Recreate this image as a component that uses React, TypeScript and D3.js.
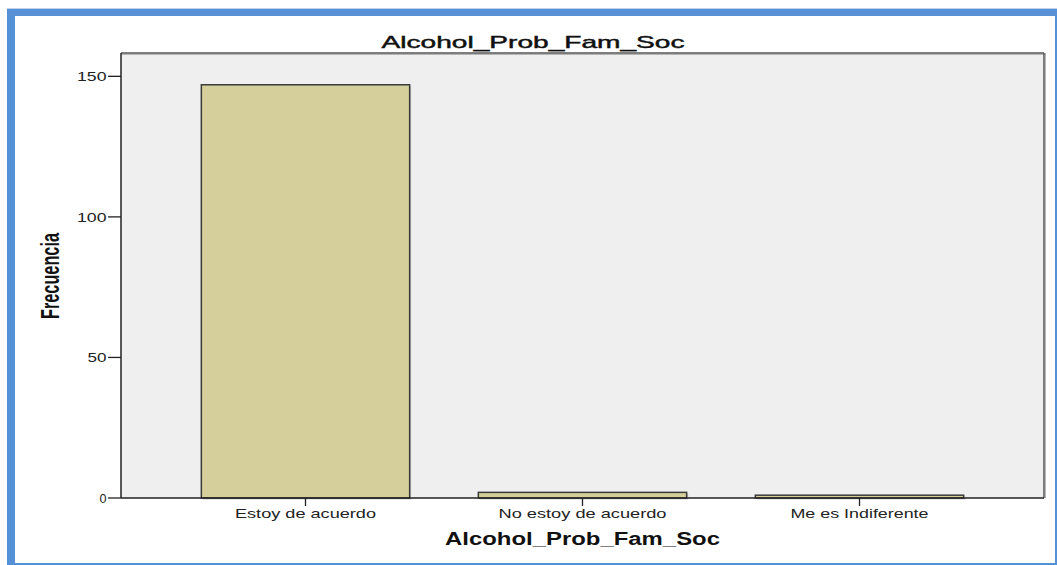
import React from "react";
import * as d3 from "d3";

// ---- data ----
const categories: string[] = ["Estoy de acuerdo", "No estoy de acuerdo", "Me es Indiferente"];
const frequencies: number[] = [147, 2, 1];
const yTicks: number[] = [0, 50, 100, 150];
const chartTitle = "Alcohol_Prob_Fam_Soc";
const xAxisTitle = "Alcohol_Prob_Fam_Soc";
const yAxisTitle = "Frecuencia";

// ---- layout / style ----
const W = 1057;
const H = 565;
const plot = { left: 121, right: 1044, top: 53, bottom: 498 };
const yMax = 158.3;
const FONT = "'Liberation Sans', Arial, Helvetica, sans-serif";
const BLUE = "#5690D6";
const BAR_FILL = "#D4CF9B";
const PLOT_BG = "#EFEFEF";
// horizontal text widths (the picture is stretched horizontally)
const xLabelWidths = [141, 168, 138];
const yLabelWidths: Record<string, number> = { "0": 7, "50": 19, "100": 29.5, "150": 29.5 };

export default function App() {
  const x = d3
    .scaleBand<string>()
    .domain(categories)
    .range([plot.left, plot.right])
    .paddingInner(0.248)
    .paddingOuter(0.29);
  const y = d3.scaleLinear().domain([0, yMax]).range([plot.bottom, plot.top]);

  return (
    <svg
      width={W}
      height={H}
      viewBox={`0 0 ${W} ${H}`}
      style={{ position: "absolute", left: 0, top: 0, background: "#fff" }}
    >
      {/* frame */}
      <rect x={0} y={0} width={W} height={H} fill="#fff" />
      <line x1={7} x2={W} y1={8.5} y2={8.5} stroke="#BFD3EE" strokeWidth={1} />
      <rect x={7} y={9} width={W - 7} height={H - 9} fill={BLUE} />
      <rect x={15} y={16} width={1040} height={547} fill="#fff" />

      {/* plot background */}
      <rect
        x={plot.left}
        y={plot.top}
        width={plot.right - plot.left}
        height={plot.bottom - plot.top}
        fill={PLOT_BG}
      />
      {/* top & right border with slight shadow */}
      <line x1={plot.left} x2={plot.right + 1.5} y1={plot.top + 1.5} y2={plot.top + 1.5} stroke="#B5B5B5" strokeWidth={1} />
      <line x1={plot.right + 1.5} x2={plot.right + 1.5} y1={plot.top} y2={plot.bottom} stroke="#B5B5B5" strokeWidth={1} />
      <line x1={plot.left} x2={plot.right} y1={plot.top} y2={plot.top} stroke="#555" strokeWidth={1.5} />
      <line x1={plot.right} x2={plot.right} y1={plot.top} y2={plot.bottom} stroke="#555" strokeWidth={1.5} />

      {/* title */}
      <text
        x={533}
        y={47.5}
        textAnchor="middle"
        fontFamily={FONT}
        fontSize={17}
        fontWeight="normal"
        fill="#111"
        stroke="#111"
        strokeWidth={0.45}
        textLength={303}
        lengthAdjust="spacingAndGlyphs"
      >
        {chartTitle}
      </text>

      {/* bars */}
      {categories.map((c, i) => {
        const v = frequencies[i];
        const bx = x(c) as number;
        const by = y(v);
        return (
          <g key={c}>
            <rect
              x={bx + 1.5}
              y={by + 1.5}
              width={x.bandwidth()}
              height={plot.bottom - by}
              fill="#B0B0B0"
              opacity={0.6}
            />
            <rect
              x={bx}
              y={by}
              width={x.bandwidth()}
              height={plot.bottom - by}
              fill={BAR_FILL}
              stroke="#3A3A3A"
              strokeWidth={1.5}
            />
          </g>
        );
      })}

      {/* axes lines */}
      <line x1={plot.left} x2={plot.left} y1={plot.top} y2={plot.bottom} stroke="#222" strokeWidth={1.5} />
      <line x1={plot.left} x2={plot.right} y1={plot.bottom} y2={plot.bottom} stroke="#222" strokeWidth={1.5} />

      {/* y ticks */}
      {yTicks.map((t) => (
        <g key={t}>
          <line x1={108} x2={plot.left} y1={y(t)} y2={y(t)} stroke="#222" strokeWidth={1.3} />
          <text
            x={106.5}
            y={y(t)}
            dy="0.36em"
            textAnchor="end"
            fontFamily={FONT}
            fontSize={13.5}
            fill="#222"
            textLength={yLabelWidths[String(t)]}
            lengthAdjust="spacingAndGlyphs"
          >
            {String(t)}
          </text>
        </g>
      ))}

      {/* x ticks */}
      {categories.map((c, i) => {
        const cx = (x(c) as number) + x.bandwidth() / 2;
        return (
          <g key={c}>
            <line x1={cx} x2={cx} y1={plot.bottom} y2={plot.bottom + 8} stroke="#222" strokeWidth={1.3} />
            <text
              x={cx}
              y={518}
              textAnchor="middle"
              fontFamily={FONT}
              fontSize={13.5}
              fill="#222"
              textLength={xLabelWidths[i]}
              lengthAdjust="spacingAndGlyphs"
            >
              {c}
            </text>
          </g>
        );
      })}

      {/* axis titles */}
      <text
        x={582.5}
        y={545}
        textAnchor="middle"
        fontFamily={FONT}
        fontSize={17.5}
        fontWeight="bold"
        fill="#111"
        textLength={275}
        lengthAdjust="spacingAndGlyphs"
      >
        {xAxisTitle}
      </text>
      <text
        transform="translate(59,276) rotate(-90)"
        x={0}
        y={0}
        textAnchor="middle"
        fontFamily={FONT}
        fontSize={25}
        fontWeight="bold"
        fill="#111"
        textLength={86}
        lengthAdjust="spacingAndGlyphs"
      >
        {yAxisTitle}
      </text>
    </svg>
  );
}
